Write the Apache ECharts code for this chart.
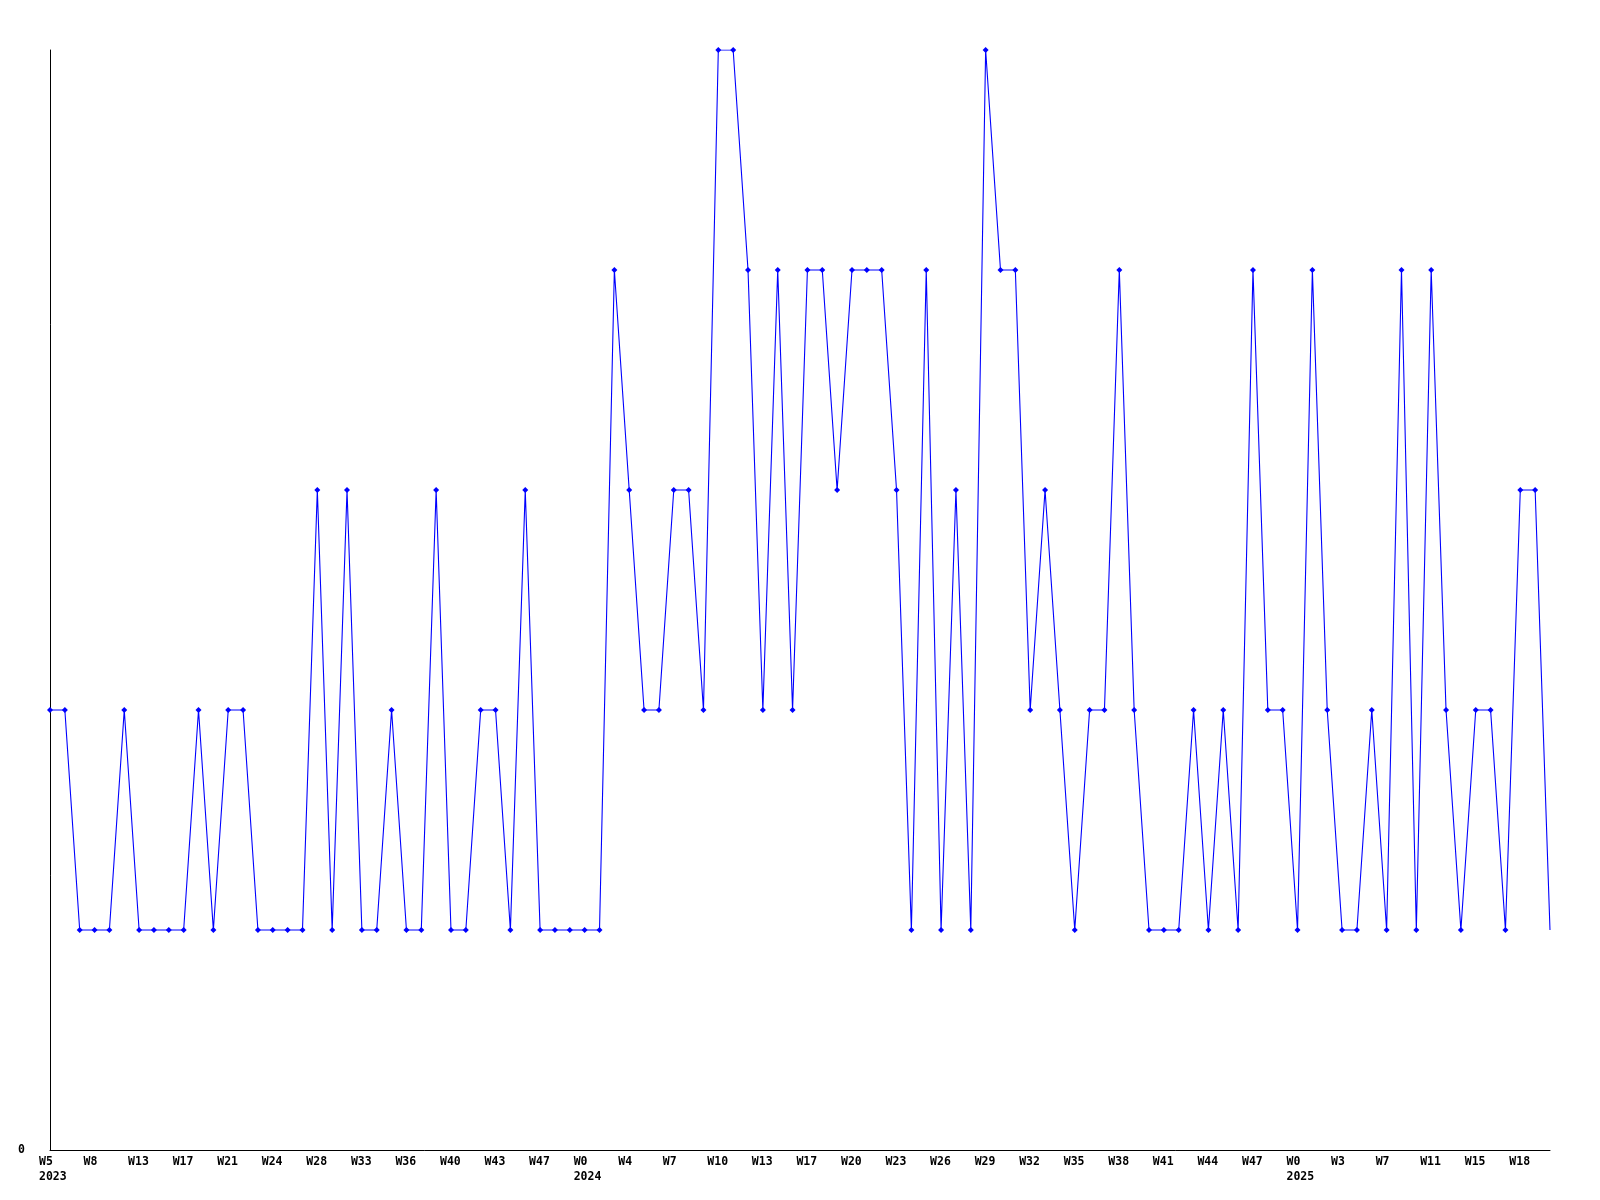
<!DOCTYPE html>
<html>
<head>
<meta charset="utf-8">
<script src="https://cdn.jsdelivr.net/npm/echarts@6/dist/echarts.min.js"></script>
<style>
html,body{margin:0;padding:0;background:#fff;}
#chart{width:1600px;height:1200px;}
</style>
</head>
<body>
<div id="chart"></div>
<script>
// Week categories (year-week); labels are shown on every third one
const categories = [
  "2023-W5","2023-W6","2023-W7","2023-W8","2023-W10","2023-W12","2023-W13","2023-W14","2023-W16","2023-W17",
  "2023-W18","2023-W20","2023-W21","2023-W22","2023-W23","2023-W24","2023-W25","2023-W27","2023-W28","2023-W30",
  "2023-W32","2023-W33","2023-W34","2023-W35","2023-W36","2023-W38","2023-W39","2023-W40","2023-W41","2023-W42",
  "2023-W43","2023-W44","2023-W46","2023-W47","2023-W49","2023-W51",
  "2024-W0","2024-W1","2024-W3","2024-W4","2024-W5","2024-W6","2024-W7","2024-W8","2024-W9","2024-W10",
  "2024-W11","2024-W12","2024-W13","2024-W14","2024-W16","2024-W17","2024-W18","2024-W19","2024-W20","2024-W21",
  "2024-W22","2024-W23","2024-W24","2024-W25","2024-W26","2024-W27","2024-W28","2024-W29","2024-W30","2024-W31",
  "2024-W32","2024-W33","2024-W34","2024-W35","2024-W36","2024-W37","2024-W38","2024-W39","2024-W40","2024-W41",
  "2024-W42","2024-W43","2024-W44","2024-W45","2024-W46","2024-W47","2024-W49","2024-W51",
  "2025-W0","2025-W1","2025-W2","2025-W3","2025-W4","2025-W6","2025-W7","2025-W9","2025-W10","2025-W11",
  "2025-W13","2025-W14","2025-W15","2025-W16","2025-W17","2025-W18","2025-W19","2025-W20"
];

// Weekly values
const values = [
  2,2,1,1,1,2,1,1,1,1,
  2,1,2,2,1,1,1,1,3,1,
  3,1,1,2,1,1,3,1,1,2,
  2,1,3,1,1,1,1,1,4,3,
  2,2,3,3,2,5,5,4,2,4,
  2,4,4,3,4,4,4,3,1,4,
  1,3,1,5,4,4,2,3,2,1,
  2,2,4,2,1,1,1,2,1,2,
  1,4,2,2,1,4,2,1,1,2,
  1,4,1,4,2,1,2,2,1,3,
  3,1
];

// Y axis: only the zero tick is labelled
const yMin = 0, yMax = 5;

const chart = echarts.init(document.getElementById('chart'), null, {renderer: 'canvas'});
const font = "'DejaVu Sans Mono', monospace";
const lastIdx = values.length - 1;

chart.setOption({
  animation: false,
  backgroundColor: '#ffffff',
  grid: [
    {left: 50, right: 50, top: 50, bottom: 50, containLabel: false},
    {left: 39, right: 61, top: 50, bottom: 50, containLabel: false}
  ],
  xAxis: [
    {
      type: 'category', gridIndex: 0, data: categories, boundaryGap: false,
      axisLine: {lineStyle: {color: '#000', width: 1}},
      axisTick: {show: false},
      axisLabel: {show: false},
      splitLine: {show: false}
    },
    {
      type: 'category', gridIndex: 1, data: categories, boundaryGap: false,
      axisLine: {show: false},
      axisTick: {show: false},
      splitLine: {show: false},
      axisLabel: {
        interval: 2, align: 'left', margin: 5,
        fontFamily: font, fontWeight: 'bold', fontSize: 11.5, lineHeight: 15, color: '#000',
        formatter: function (v, i) {
          const p = v.split('-');
          if (i === 0 || p[1] === 'W0') return p[1] + '\n' + p[0];
          return p[1];
        }
      }
    }
  ],
  yAxis: [
    {
      type: 'value', gridIndex: 0, min: yMin, max: yMax, interval: 5,
      axisLine: {show: true, lineStyle: {color: '#000', width: 1}},
      axisTick: {show: false},
      splitLine: {show: false},
      axisLabel: {
        margin: 25, fontFamily: font, fontWeight: 'bold', fontSize: 11.5, color: '#000',
        formatter: function (v) { return v === 0 ? '0' : ''; }
      }
    },
    {
      type: 'value', gridIndex: 1, min: yMin, max: yMax, show: false
    }
  ],
  series: [{
    type: 'line',
    xAxisIndex: 0, yAxisIndex: 0,
    data: values,
    symbol: function (v, params) { return params.dataIndex === lastIdx ? 'none' : 'diamond'; },
    symbolSize: 6,
    showAllSymbol: true,
    lineStyle: {color: '#0000ff', width: 1.1},
    itemStyle: {color: '#0000ff'},
    emphasis: {disabled: true}
  }]
});
</script>
</body>
</html>
